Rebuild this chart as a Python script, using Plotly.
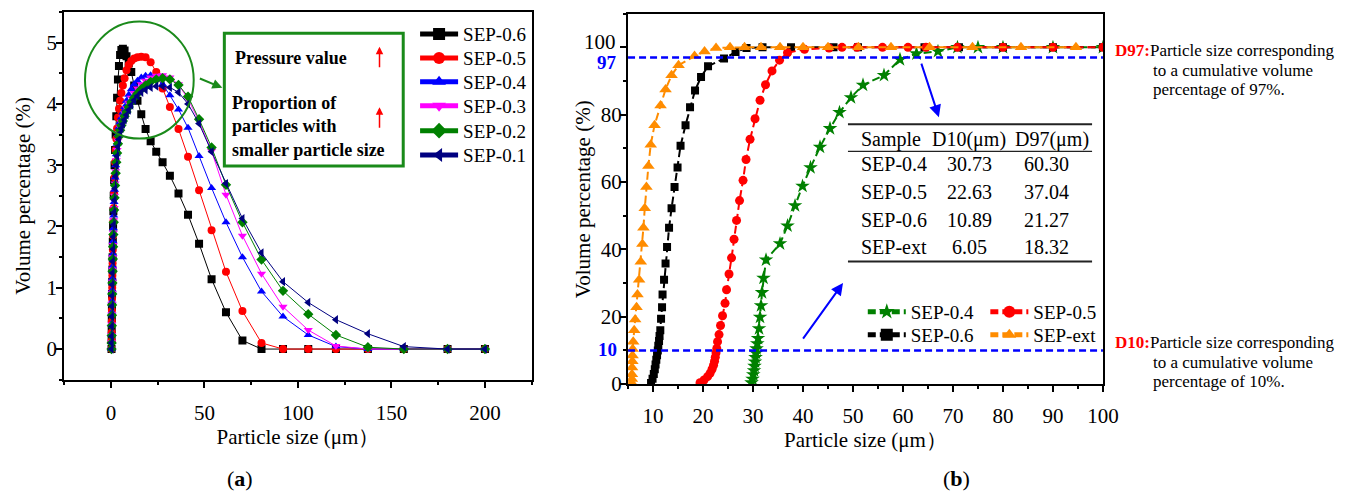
import plotly.graph_objects as go

W, H = 1367, 502
FONT = "Liberation Serif"

# ---------------- (a) particle size distribution ----------------
size_a = [0.29, 0.34, 0.38, 0.44, 0.50, 0.57, 0.66, 0.75, 0.86, 0.98,
          1.12, 1.28, 1.46, 1.67, 1.91, 2.18, 2.50, 2.85, 3.26, 3.72,
          4.26, 4.87, 5.56, 6.36, 7.27, 8.30, 9.49, 10.85, 12.40, 14.17,
          16.20, 18.50, 21.20, 24.20, 27.60, 31.50, 36.10, 41.20, 47.10, 53.80,
          61.50, 70.30, 80.50, 92.00, 105.50, 120.30, 137.40, 156.60, 180.00, 200.00]

sep06 = [0, 0.15, 0.30, 0.50, 0.70, 0.90, 1.10, 1.30, 1.50, 1.75,
         2.00, 2.25, 2.50, 2.75, 3.00, 3.25, 3.50, 3.80, 4.10, 4.40,
         4.62, 4.80, 4.88, 4.90, 4.87, 4.78, 4.66, 4.52, 4.30, 4.05,
         3.83, 3.59, 3.39, 3.22, 3.05, 2.83, 2.54, 2.19, 1.72, 1.14,
         0.60, 0.14, 0, 0, 0, 0, 0, 0, 0, 0]
sep05 = [0, 0.13, 0.27, 0.45, 0.63, 0.82, 1.00, 1.20, 1.40, 1.62,
         1.85, 2.08, 2.30, 2.55, 2.80, 3.05, 3.25, 3.43, 3.60, 3.78,
         3.92, 4.05, 4.18, 4.30, 4.42, 4.55, 4.64, 4.70, 4.74, 4.76,
         4.77, 4.76, 4.68, 4.52, 4.25, 3.95, 3.59, 3.14, 2.59, 1.94,
         1.26, 0.62, 0.10, 0, 0, 0, 0, 0, 0, 0]
sep04 = [0, 0.12, 0.25, 0.42, 0.60, 0.78, 0.96, 1.15, 1.35, 1.55,
         1.76, 1.97, 2.18, 2.40, 2.60, 2.80, 3.00, 3.18, 3.35, 3.50,
         3.62, 3.70, 3.78, 3.86, 3.95, 4.05, 4.15, 4.24, 4.32, 4.38,
         4.43, 4.46, 4.47, 4.43, 4.32, 4.14, 3.91, 3.61, 3.15, 2.63,
         2.07, 1.50, 0.94, 0.53, 0.23, 0.04, 0, 0, 0, 0]
sep03 = [0, 0.11, 0.23, 0.40, 0.57, 0.74, 0.92, 1.10, 1.30, 1.50,
         1.70, 1.90, 2.10, 2.30, 2.50, 2.70, 2.90, 3.08, 3.25, 3.40,
         3.52, 3.62, 3.70, 3.78, 3.85, 3.93, 4.02, 4.10, 4.18, 4.25,
         4.32, 4.38, 4.43, 4.46, 4.47, 4.43, 4.32, 4.08, 3.72, 3.23,
         2.52, 1.85, 1.23, 0.69, 0.31, 0.05, 0, 0, 0, 0]
sep02 = [0, 0.10, 0.22, 0.38, 0.55, 0.72, 0.90, 1.08, 1.27, 1.47,
         1.67, 1.87, 2.07, 2.27, 2.47, 2.67, 2.87, 3.05, 3.20, 3.35,
         3.47, 3.57, 3.65, 3.72, 3.80, 3.87, 3.95, 4.03, 4.10, 4.17,
         4.24, 4.30, 4.36, 4.40, 4.42, 4.40, 4.31, 4.12, 3.75, 3.29,
         2.68, 2.07, 1.46, 0.95, 0.57, 0.23, 0.03, 0, 0, 0]
sep01 = [0, 0.10, 0.21, 0.37, 0.53, 0.70, 0.87, 1.05, 1.24, 1.43,
         1.63, 1.83, 2.03, 2.23, 2.43, 2.62, 2.82, 3.00, 3.15, 3.30,
         3.42, 3.52, 3.60, 3.67, 3.74, 3.82, 3.90, 3.98, 4.06, 4.13,
         4.19, 4.23, 4.27, 4.29, 4.29, 4.27, 4.19, 4.00, 3.68, 3.22,
         2.70, 2.13, 1.57, 1.10, 0.76, 0.48, 0.25, 0.04, 0, 0]

names_a = ["SEP-0.6", "SEP-0.5", "SEP-0.4", "SEP-0.3", "SEP-0.2", "SEP-0.1"]
series_a = [sep06, sep05, sep04, sep03, sep02, sep01]
colors_a = ["#000000", "#FF0000", "#0000FF", "#FF00FF", "#008000", "#000080"]
symbols_a = ["square", "circle", "triangle-up", "triangle-down", "diamond", "triangle-left"]

# ---------------- (b) cumulative distribution ----------------
x_ext = [5.75, 5.76, 5.77, 5.80, 5.86, 5.89, 5.92, 6.03, 6.23, 6.42,
         6.69, 6.88, 7.21, 7.54, 7.87, 8.07, 8.34, 8.67, 9.07, 9.53,
         10.3, 11.5, 12.5, 13.7, 15.1, 18.3, 20.3, 22.6, 25.4, 28.3,
         31.6, 35.4, 40.0, 45.0, 51.1, 57.6, 65.3, 73.9, 83.6, 94.6]
y_ext = [0.3, 1.5, 2.9, 4.9, 6.8, 8.5, 10.4, 12.6, 16.0, 19.2,
         22.8, 26.6, 31.0, 36.3, 41.6, 46.4, 52.2, 58.5, 64.8, 71.1,
         76.9, 82.7, 87.5, 91.7, 94.7, 97.4, 98.8, 99.8, 100, 100,
         100, 100, 100, 100, 100, 100, 100, 100, 100, 100]

x_06 = [9.6, 9.9, 10.15, 10.35, 10.5, 10.65, 10.8, 10.95, 11.05, 11.2,
        11.3, 11.45, 11.6, 11.8, 11.9, 12.2, 12.5, 12.8, 13.2, 13.7,
        14.3, 14.9, 15.5, 16.5, 17.4, 18.4, 19.6, 21.0, 24.2, 26.5,
        28.7, 31.9, 37.6, 46.1, 51.0, 64.3, 71.2, 80.0, 90.0, 100.0]
y_06 = [0.3, 1.6, 3.0, 4.4, 5.8, 7.2, 8.6, 10.0, 11.4, 12.8,
        14.3, 16.0, 19.4, 22.8, 26.6, 31.0, 35.8, 40.7, 46.4, 52.2,
        58.5, 64.3, 70.8, 76.9, 82.2, 87.2, 91.2, 94.4, 96.7, 98.6,
        99.8, 100, 100, 100, 100, 100, 100, 100, 100, 100]

x_05 = [19.4, 20.2, 20.9, 21.4, 21.8, 22.1, 22.3, 22.45, 22.6, 22.75,
        22.9, 23.2, 23.5, 23.9, 24.4, 24.7, 25.2, 25.7, 26.2, 26.7,
        27.3, 28.0, 28.6, 29.4, 30.4, 31.4, 32.5, 33.8, 35.3, 36.9,
        40.3, 45.2, 47.8, 50.8, 55.9, 61.0, 64.6, 70.9, 80.0, 90.0, 100.0]
y_05 = [0.4, 1.2, 2.2, 3.2, 4.4, 5.6, 6.8, 8.0, 9.3, 10.6,
        12.6, 14.7, 17.4, 20.3, 24.0, 28.0, 32.7, 37.5, 43.0, 48.6,
        54.5, 60.5, 66.7, 72.7, 78.8, 84.3, 88.9, 93.0, 96.2, 98.4,
        99.4, 99.8, 100, 100, 100, 100, 100, 100, 100, 100, 100]

x_04 = [29.7, 29.9, 30.05, 30.2, 30.3, 30.4, 30.5, 30.6, 30.7, 30.85,
        31.0, 31.2, 31.4, 31.6, 31.8, 32.1, 32.6, 35.4, 36.9, 38.4,
        39.9, 41.5, 43.4, 45.4, 47.3, 49.6, 52.0, 56.2, 59.4, 62.7,
        67.0, 70.9, 75.0, 80.0, 90.0, 100.0]
y_04 = [0.4, 1.5, 2.8, 4.0, 5.3, 6.6, 7.9, 9.2, 10.5, 12.0,
        13.6, 16.5, 19.9, 23.3, 27.2, 31.5, 36.9, 41.7, 47.0, 53.0,
        58.8, 64.3, 70.4, 75.9, 80.7, 85.1, 88.8, 91.7, 96.4, 98.1,
        98.8, 100, 100, 100, 100, 100]

ref_levels = [97, 10]
ref_labels = ["97", "10"]

yticks_b = [0, 20, 40, 60, 80, 100]

table_header = ["Sample", "D10(μm)", "D97(μm)"]
table_samples = ["SEP-0.4", "SEP-0.5", "SEP-0.6", "SEP-ext"]
table_d10 = ["30.73", "22.63", "10.89", "6.05"]
table_d97 = ["60.30", "37.04", "21.27", "18.32"]


def fx(px):
    return px / W


def fy(py):
    return 1 - py / H


fig = go.Figure()

# legend slots (pixel position of symbol centre)
left_leg_y = [35, 59.5, 84, 108.5, 134, 159]
LEFT_LEG_X = 435
right_leg_pos = [(888, 319.5), (888, 343), (1012, 319.5), (1012, 343)]

legend_layout = {}
lg_idx = 0


def new_legend(mx, my):
    global lg_idx
    lg_idx += 1
    key = "legend" if lg_idx == 1 else "legend%d" % lg_idx
    legend_layout[key] = dict(x=fx(mx - 15), y=fy(my), xanchor="left", yanchor="middle",
                              bgcolor="rgba(0,0,0,0)", borderwidth=0,
                              font=dict(family=FONT, size=19, color="black"),
                              itemsizing="constant", itemwidth=38)
    return key


for i, (name, ys, col, sym) in enumerate(zip(names_a, series_a, colors_a, symbols_a)):
    lg = new_legend(LEFT_LEG_X, left_leg_y[i])
    fig.add_trace(go.Scatter(
        x=size_a, y=ys, name=name, mode="lines+markers",
        line=dict(color=col, width=1),
        marker=dict(symbol=sym, size=8, color=col, line=dict(width=0)),
        xaxis="x", yaxis="y", legend=lg))

right_series = [
    ("SEP-0.4", x_04, y_04, "#008000", "star", 11),
    ("SEP-0.6", x_06, y_06, "#000000", "square", 8),
    ("SEP-0.5", x_05, y_05, "#FF0000", "circle", 9),
    ("SEP-ext", x_ext, y_ext, "#FF8C00", "triangle-up", 11),
]
for i, (name, xs, ys, col, sym, sz) in enumerate(right_series):
    lg = new_legend(*right_leg_pos[i])
    fig.add_trace(go.Scatter(
        x=xs, y=ys, name=name, mode="lines+markers",
        line=dict(color=col, width=2, dash="8px,4px"),
        marker=dict(symbol=sym, size=sz, color=col, line=dict(width=0)),
        xaxis="x2", yaxis="y2", legend=lg))

tickfont = dict(family=FONT, size=21, color="black")
axis_common = dict(showline=True, mirror=True, linewidth=2, linecolor="black",
                   ticks="outside", ticklen=6, tickwidth=1.5, tickcolor="black",
                   showgrid=False, zeroline=False, tickfont=tickfont)
TITLE_FONT = dict(family=FONT, size=21, color="black")

# the top tick label of (b) sits a little above its tick (made room for "97")
ytick_text_b = [str(v) for v in yticks_b[:-1]] + [""]

fig.update_layout(
    width=W, height=H, margin=dict(l=0, r=0, t=0, b=0),
    paper_bgcolor="white", plot_bgcolor="white",
    font=dict(family=FONT, size=19, color="black"),
    xaxis=dict(domain=[fx(65), fx(538)], range=[-25, 225], tick0=0, dtick=50,
               minor=dict(dtick=25, ticks="outside", ticklen=3, tickcolor="black"),
               title=dict(text="Particle size (μm）", font=TITLE_FONT, standoff=5),
               ticklabelstandoff=7, anchor="y", **axis_common),
    yaxis=dict(domain=[fy(389), fy(12.3)], range=[-0.5, 5.5], tick0=0, dtick=1,
               minor=dict(dtick=0.5, ticks="outside", ticklen=3, tickcolor="black"),
               title=dict(text="Volume percentage (%)", font=TITLE_FONT, standoff=10),
               ticklabelstandoff=-5, anchor="x", **axis_common),
    xaxis2=dict(domain=[fx(635.5), fx(1116)], range=[5, 100], tick0=0, dtick=10,
                minor=dict(dtick=5, ticks="outside", ticklen=3, tickcolor="black"),
                title=dict(text="Particle size (μm）", font=TITLE_FONT, standoff=0),
                ticklabelstandoff=6, anchor="y2", **axis_common),
    yaxis2=dict(domain=[fy(393.5), fy(14)], range=[0, 110],
                tickmode="array", tickvals=yticks_b, ticktext=ytick_text_b,
                minor=dict(dtick=10, ticks="outside", ticklen=3, tickcolor="black"),
                ticklabelstandoff=-6, anchor="x2", **axis_common),
    showlegend=True,
    **legend_layout,
)

shapes = []
annots = []
GREEN = "#1A8A1A"
# circle and box annotation on (a)
shapes.append(dict(type="circle", xref="paper", yref="paper",
                   x0=fx(86), x1=fx(196), y0=fy(142), y1=fy(22),
                   line=dict(color=GREEN, width=2)))
shapes.append(dict(type="rect", xref="paper", yref="paper",
                   x0=fx(227), x1=fx(408), y0=fy(170), y1=fy(34),
                   line=dict(color=GREEN, width=3)))
annots.append(dict(xref="paper", yref="paper", x=fx(225), y=fy(90), ax=-24, ay=-10,
                   text="", showarrow=True, arrowhead=2, arrowsize=1, arrowwidth=2,
                   arrowcolor=GREEN))
annots.append(dict(xref="paper", yref="paper", x=fx(236), y=fy(59), xanchor="left",
                   yanchor="middle", showarrow=False,
                   text="<b>Pressure value</b>", font=dict(family=FONT, size=18)))
annots.append(dict(xref="paper", yref="paper", x=fx(233), y=fy(130), xanchor="left",
                   yanchor="middle", showarrow=False, align="left",
                   text="<b>Proportion of<br>particles with<br>smaller particle size</b>",
                   font=dict(family=FONT, size=18)))
for ytop in (48, 110):
    annots.append(dict(xref="paper", yref="paper", x=fx(384), y=fy(ytop), ax=0, ay=22,
                       text="", showarrow=True, arrowhead=2, arrowsize=1, arrowwidth=1.5,
                       arrowcolor="red"))

# right y-axis title and raised top tick label
annots.append(dict(xref="paper", yref="paper", x=fx(590), y=fy(204), xanchor="center",
                   yanchor="middle", showarrow=False, textangle=-90,
                   text="Volume percentage (%)", font=TITLE_FONT))
annots.append(dict(xref="paper", yref="paper", x=fx(625), y=fy(43), xanchor="right",
                   yanchor="middle", showarrow=False, text=str(yticks_b[-1]),
                   font=tickfont))

# reference lines on (b)
ref_label_y = [64, 358]
for lvl, lab, ly in zip(ref_levels, ref_labels, ref_label_y):
    shapes.append(dict(type="line", xref="x2 domain", yref="y2", x0=0, x1=1,
                       y0=lvl, y1=lvl, line=dict(color="#0000FF", width=2.5, dash="7px,4px")))
    annots.append(dict(xref="paper", yref="paper", x=fx(626), y=fy(ly), xanchor="right",
                       yanchor="middle", showarrow=False, text="<b>%s</b>" % lab,
                       font=dict(family=FONT, size=19, color="#0000FF")))

# blue arrows
annots.append(dict(xref="paper", yref="paper", x=fx(950), y=fy(120), ax=-18, ay=-55,
                   text="", showarrow=True, arrowhead=2, arrowsize=1.2, arrowwidth=2,
                   arrowcolor="#0000FF"))
annots.append(dict(xref="paper", yref="paper", x=fx(853), y=fy(290), ax=-41, ay=57,
                   text="", showarrow=True, arrowhead=2, arrowsize=1.2, arrowwidth=2,
                   arrowcolor="#0000FF"))

# table
tfont = dict(family=FONT, size=20, color="black")
for y_line, w in ((127.3, 2), (155, 1.2), (268, 2)):
    shapes.append(dict(type="line", xref="paper", yref="paper", x0=fx(858), x1=fx(1105),
                       y0=fy(y_line), y1=fy(y_line), line=dict(color="#222", width=w)))
hdr_x = [(869, "left"), (980, "center"), (1064, "center")]
for (px, anc), txt in zip(hdr_x, table_header):
    annots.append(dict(xref="paper", yref="paper", x=fx(px), y=fy(142.7), xanchor=anc,
                       yanchor="middle", showarrow=False, text=txt, font=tfont))
row_y = [168.5, 197, 225.5, 253]
for ry, s, a, b in zip(row_y, table_samples, table_d10, table_d97):
    annots.append(dict(xref="paper", yref="paper", x=fx(869), y=fy(ry), xanchor="left",
                       yanchor="middle", showarrow=False, text=s, font=tfont))
    annots.append(dict(xref="paper", yref="paper", x=fx(981), y=fy(ry), xanchor="center",
                       yanchor="middle", showarrow=False, text=a, font=tfont))
    annots.append(dict(xref="paper", yref="paper", x=fx(1059), y=fy(ry), xanchor="center",
                       yanchor="middle", showarrow=False, text=b, font=tfont))

# side notes
nfont = dict(family=FONT, size=17, color="black")
for lab, lvl_txt, y1 in (("D97:", "97%.", 51.7), ("D10:", "10%.", 350.7)):
    annots.append(dict(xref="paper", yref="paper", x=fx(1126), y=fy(y1), xanchor="left",
                       yanchor="middle", showarrow=False,
                       text="<b><span style='color:red'>%s</span></b>Particle size corresponding" % lab,
                       font=nfont))
    annots.append(dict(xref="paper", yref="paper", x=fx(1165), y=fy(y1 + 21), xanchor="left",
                       yanchor="middle", showarrow=False, text="to a cumulative volume",
                       font=nfont))
    annots.append(dict(xref="paper", yref="paper", x=fx(1165), y=fy(y1 + 40.5), xanchor="left",
                       yanchor="middle", showarrow=False, text="percentage of " + lvl_txt,
                       font=nfont))

# panel labels
annots.append(dict(xref="paper", yref="paper", x=fx(243), y=fy(490), xanchor="center",
                   yanchor="middle", showarrow=False, text="(<b>a</b>)",
                   font=dict(family=FONT, size=22)))
annots.append(dict(xref="paper", yref="paper", x=fx(968), y=fy(490), xanchor="center",
                   yanchor="middle", showarrow=False, text="(<b>b</b>)",
                   font=dict(family=FONT, size=22)))

fig.update_layout(shapes=shapes, annotations=annots)

fig.write_html("out.html", config={"displayModeBar": False},
               post_script="document.body.style.margin='0';")
